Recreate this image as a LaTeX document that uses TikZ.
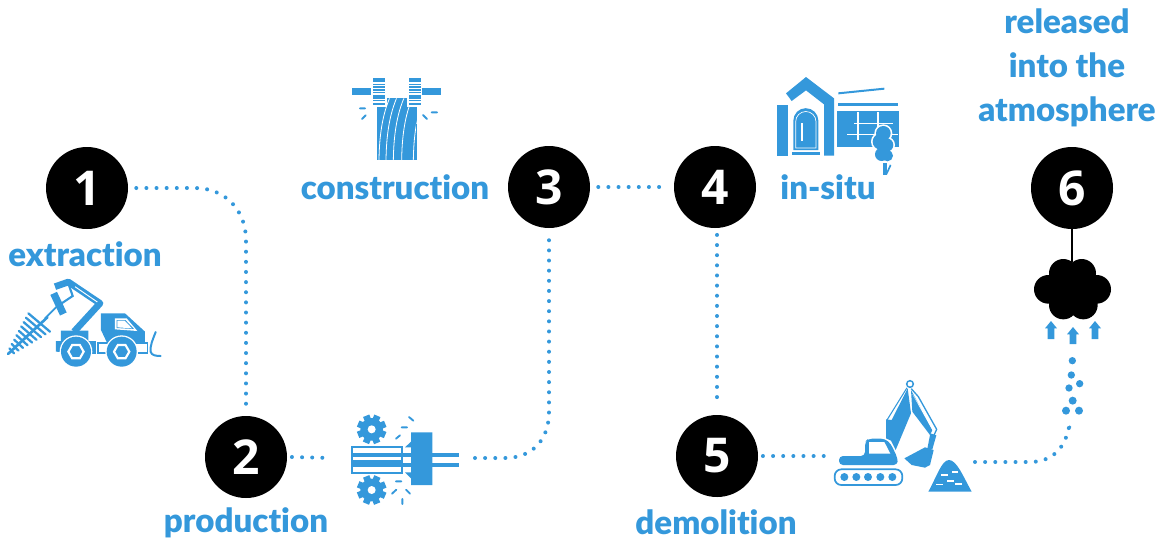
\documentclass[tikz,border=0pt]{standalone}
\usepackage{fontspec}
\usetikzlibrary{calc}
\setmainfont[BoldFont={Lato Black},Ligatures=NoCommon]{Lato}
\newfontfamily\numfont{Open Sans}
\definecolor{bl}{HTML}{3498DB}
\tikzset{
 num/.style={circle,fill=black,text=white,minimum size=61.5pt,inner sep=0pt,font=\fontsize{36}{36}\selectfont\numfont\bfseries},
 lab/.style={text=bl,font=\fontsize{24.8}{33}\selectfont\bfseries,inner sep=0pt,align=center},
 dots/.style={draw=bl,line width=3pt,line cap=round,dash pattern=on 0pt off 7.6pt},
 z1/.style={shift={(0,270)},scale=1/3},
 z2/.style={shift={(340,400)},scale=1/3},
 z3/.style={shift={(340,65)},scale=1/3},
 z4/.style={shift={(770,65)},scale=1/3},
 z5/.style={shift={(825,370)},scale=1/3},
 z6/.style={shift={(1020,220)},scale=1/3},
}
\newcommand{\gearicon}[2]{%
 \fill[bl] (#1,#2) circle[radius=34];
 \foreach \a in {0,45,...,315}{\fill[bl,shift={(#1,#2)},rotate=\a+22] (-10,-44) rectangle (10,-26);}
 \fill[white] (#1,#2) circle[radius=12];}
\newcommand{\wheelicon}[2]{%
 \fill[bl] (#1,#2) circle[radius=45];
 \draw[white,line width=1.6pt] (#1,#2) ++(0:23) -- ++(120:23) -- ++(180:23) -- ++(240:23) -- ++(300:23) -- ++(0:23) -- cycle;}
\begin{document}
\begin{tikzpicture}[x=.75pt,y=-.75pt]
\useasboundingbox (0,0) rectangle (1164,537);
% numbered nodes
\node[num] (n1) at (87,188) {1};
\node[num] (n2) at (246,457) {2};
\node[num] (n3) at (549,187) {3};
\node[num] (n4) at (715,187) {4};
\node[num] (n5) at (717,456) {5};
\node[num] (n6) at (1072,188) {6};
% labels
\node[lab] (l1) at (85,254) {extraction};
\node[lab] (l2) at (246,523) {production};
\node[lab] (l3) at (395,187) {construction};
\node[lab] (l4) at (828,187) {in-situ};
\node[lab] (l5) at (716,522) {demolition};
\node[lab] (l6) at (1067,68) {released\\into the\\atmosphere};
% free ends
\coordinate (m2a) at (332,458);
\coordinate (m2b) at (475,458);
\coordinate (e5a) at (825,456);
\coordinate (p5a) at (975,462);
\coordinate (c6) at (1072,262);
% connectors
\draw[dots] ([xshift=6pt]n1.east) -- (195,188) .. controls (225,188) and (246,210) .. (246,240) -- ([yshift=6pt]n2.north);
\draw[dots] ([xshift=3.5pt]n2.east) -- (m2a);
\draw[dots] (m2b) -- (505,458) .. controls (532,458) and (549,440) .. (549,412) -- ([yshift=-7pt]n3.south);
\draw[dots] ([xshift=6pt]n3.east) -- ([xshift=-6pt]n4.west);
\draw[dots] ([yshift=-5pt,xshift=1.5pt]n4.south) -- ([yshift=6pt]n5.north);
\draw[dots] ([xshift=3.5pt]n5.east) -- (e5a);
\draw[dots] (p5a) -- (1030,462) .. controls (1052,462) and (1066,448) .. (1069.5,424);
\draw[black,line width=2.2pt] (n6.south) -- (c6);
% --- extraction icon
\begin{scope}[z1]
 \draw[bl,line width=2pt,line cap=round] (142,142) -- (24,252);
 \foreach \t in {0,.125,...,1}{
  \draw[bl,line width=1.7pt,line cap=round] ($(85,130)!\t!(28,235)$) -- ($(150,185)!\t!(42,250)$);}
 \draw[bl,line width=1.4pt] (135,145) -- (175,105);
 \draw[bl,line width=5pt,line join=round] (222,185) -- (300,100) -- (205,36) -- (165,50);
 \draw[white,line width=.7pt] (225,50) -- (292,96);
 \draw[bl,line width=5.5pt] (161,70) -- (190,132);
 \fill[white] (172,62) -- (197,55) -- (182,84) -- cycle;
 \draw[bl,line width=1.6pt] (205,40) -- (218,78) -- (185,100);
 \fill[bl] (303,130) -- (375,130) -- (435,185) -- (435,216) -- (320,216) -- (303,180) -- cycle;
 \fill[white] (345,145) -- (380,145) -- (412,183) -- (345,178) -- cycle;
 \fill[bl] (350,150) -- (376,150) -- (402,177) -- (350,174) -- cycle;
 \fill[white] (352,152) -- (374,152) -- (396,175) -- (352,172) -- cycle;
 \fill[bl] (183,182) -- (265,182) -- (265,213) -- (288,213) -- (288,252) -- (168,245) -- (168,213) -- (183,213) -- cycle;
 \fill[bl] (290,215) rectangle (445,252);
 \fill[white] (297,222) rectangle (335,245);
 \fill[white] (405,222) rectangle (440,245);
 \fill[white] (228,245) circle[radius=49];
 \fill[white] (365,245) circle[radius=49];
 \wheelicon{228}{245}
 \wheelicon{365}{245}
 \draw[bl,line width=1.5pt,line cap=round] (467,186) .. controls (458,210) and (450,225) .. (452,245) .. controls (454,256) and (468,258) .. (482,258);
\end{scope}
% --- production icon
\begin{scope}[z2]
 \gearicon{95}{88}
 \gearicon{95}{270}
 \fill[bl] (213,97) -- (277,97) -- (277,255) -- (213,255) -- (213,235) -- (195,217) -- (213,217) -- (213,142) -- (195,142) -- (213,125) -- cycle;
 \fill[bl] (190,158) rectangle (357,172);
 \fill[bl] (190,188) rectangle (357,201);
 \fill[white] (190,172) rectangle (213,188);
 \fill[white] (33,137) rectangle (190,222);
 \draw[bl,line width=1.5pt] (36,140) rectangle (187,219);
 \fill[bl] (38,158) rectangle (186,172);
 \fill[bl] (38,180) rectangle (186,200);
 \draw[bl,line width=1.4pt,line cap=round] (207,51) -- (220,62) (185,82) -- (201,82) (168,116) -- (180,106)
  (168,244) -- (184,244) (156,281) -- (169,269) (198,269) -- (210,281) (187,297) -- (187,312);
\end{scope}
% --- construction icon
\begin{scope}[z3]
 \fill[bl] (140,100) rectangle (202,130);
 \fill[bl] (112,126) rectangle (230,285);
 \fill[white] (99,39) rectangle (135,126);
 \fill[white] (207,39) rectangle (243,126);
 \fill[bl] (99,39) rectangle (135,52);
 \fill[bl] (207,39) rectangle (243,52);
 \foreach \y in {56,64,72,80,91,104,115}{\fill[bl] (99,\y) rectangle (135,\y+5);\fill[bl] (207,\y) rectangle (243,\y+5);}
 \fill[bl] (99,90) rectangle (135,102);
 \fill[bl] (207,90) rectangle (243,102);
 \fill[bl] (36,69) rectangle (93,90);
 \fill[bl] (246,69) rectangle (303,90);
 \begin{scope}
  \clip (112,126) -- (140,126) -- (140,100) -- (202,100) -- (202,126) -- (230,126) -- (230,285) -- (112,285) -- cycle;
  \foreach \b in {117,138,160,185,220}{\draw[white,line width=.6pt] (\b,285) .. controls (\b+1,220) and (\b+8,150) .. (\b+36,90);}
 \end{scope}
 \draw[bl,line width=1.5pt,line cap=round] (60,130) -- (75,130) (66,162) -- (77,151) (275,142) -- (291,142) (249,150) -- (261,162);
\end{scope}
% --- in-situ icon
\begin{scope}[z4]
 \fill[bl] (48,85) -- (108,36) -- (192,100) -- (192,272) -- (162,272) -- (162,118) -- (108,76) -- (65,108) -- cycle;
 \fill[bl] (21,120) rectangle (54,272);
 \fill[bl] (70,255) -- (70,167) arc[start angle=180,end angle=360,radius=37.5] -- (145,255) -- cycle;
 \draw[white,line width=.5pt] (77,249) -- (77,170) arc[start angle=180,end angle=360,radius=30.5] -- (138,249) -- cycle;
 \fill[white] (93,175) rectangle (99,228);
 \fill[bl] (66,261) rectangle (150,270);
 \draw[bl,line width=1.5pt] (205,85) -- (343,71);
 \fill[bl] (204,114) rectangle (384,123);
 \fill[bl] (201,138) rectangle (387,245);
 \fill[white] (252,173) rectangle (370,178);
 \fill[white] (232,206) rectangle (385,211);
 \fill[white] (262,142) rectangle (267,226);
 \fill[white] (322,142) rectangle (327,205);
 \foreach \x/\y/\r in {340/205/22,332/230/24,350/240/20,335/268/20,352/272/17}{\fill[white] (\x,\y) circle[radius=\r+5];}
 \foreach \x/\y/\r in {340/205/22,332/230/24,350/240/20,335/268/20,352/272/17}{\fill[bl] (\x,\y) circle[radius=\r];}
 \fill[bl] (339,295) rectangle (351,329);
 \fill[bl] (351,318) -- (360,298) -- (364,302) -- (351,329) -- cycle;
\end{scope}
% --- demolition icon
\begin{scope}[z5]
 \draw[bl,line width=1.3pt,rounded corners=5pt] (29,298) rectangle (232,345);
 \foreach \x in {58,94,129,166,202}{\fill[bl] (\x,321) circle[radius=12];}
 \fill[bl,rounded corners=3pt] (42,258) -- (120,258) -- (120,215) -- (130,206) -- (180,206) -- (198,222) -- (218,265) -- (218,285) -- (42,285) -- cycle;
 \fill[white] (132,216) -- (178,216) -- (196,251) -- (132,251) -- cycle;
 \fill[bl] (183,148) -- (200,150) -- (248,55) -- (258,130) -- (212,240) -- (198,212) -- (183,205) -- cycle;
 \draw[bl,line width=.8pt] (186,150) -- (248,50);
 \draw[bl,line width=1pt,line join=round] (258,55) -- (280,80) -- (335,178) -- (325,200);
 \fill[bl] (258,60) -- (262,125) -- (315,195) -- (322,180) -- cycle;
 \fill[white] (262,72) -- (266,78) -- (326,178) -- (322,180) -- cycle;
 \fill[bl] (316,190) -- (334,196) -- (322,238) -- (307,236) -- cycle;
 \fill[bl] (238,265) -- (300,232) -- (326,240) -- (315,285) -- (300,293) -- (260,285) -- cycle;
 \fill[white] (255,42) circle[radius=15];
 \draw[bl,line width=1.1pt] (255,42) circle[radius=10];
 \fill[bl] (310,365) .. controls (335,320) and (350,270) .. (372,270) .. controls (395,270) and (415,320) .. (440,365) -- cycle;
 \fill[white] (348,313) rectangle (368,318);
 \fill[white] (380,303) rectangle (398,308);
 \fill[white] (367,330) rectangle (386,335);
 \fill[white] (333,341) rectangle (354,346);
 \fill[white] (390,339) rectangle (410,344);
\end{scope}
% --- cloud and rising dots
\begin{scope}[z6]
 \foreach \x/\y in {85/208,230/208,130/160,185/160,130/255,190/255}{\fill[black] (\x,\y) circle[radius=43];}
 \fill[black] (100,170) rectangle (215,260);
 \fill[bl] (93,303) -- (111,325) -- (103,325) -- (103,357) -- (83,357) -- (83,325) -- (75,325) -- cycle;
 \fill[bl] (159,321) -- (177,343) -- (169,343) -- (169,372) -- (149,372) -- (149,343) -- (141,343) -- cycle;
 \fill[bl] (225,303) -- (243,325) -- (235,325) -- (235,357) -- (215,357) -- (215,325) -- (207,325) -- cycle;
 \foreach \x/\y/\r in {157/422/11,154/465/11,179/491/11,147/504/11,158/542/12,138/572/12,177/572/12,149/621/5}{\fill[bl] (\x,\y) circle[radius=\r];}
\end{scope}
\end{tikzpicture}
\end{document}
